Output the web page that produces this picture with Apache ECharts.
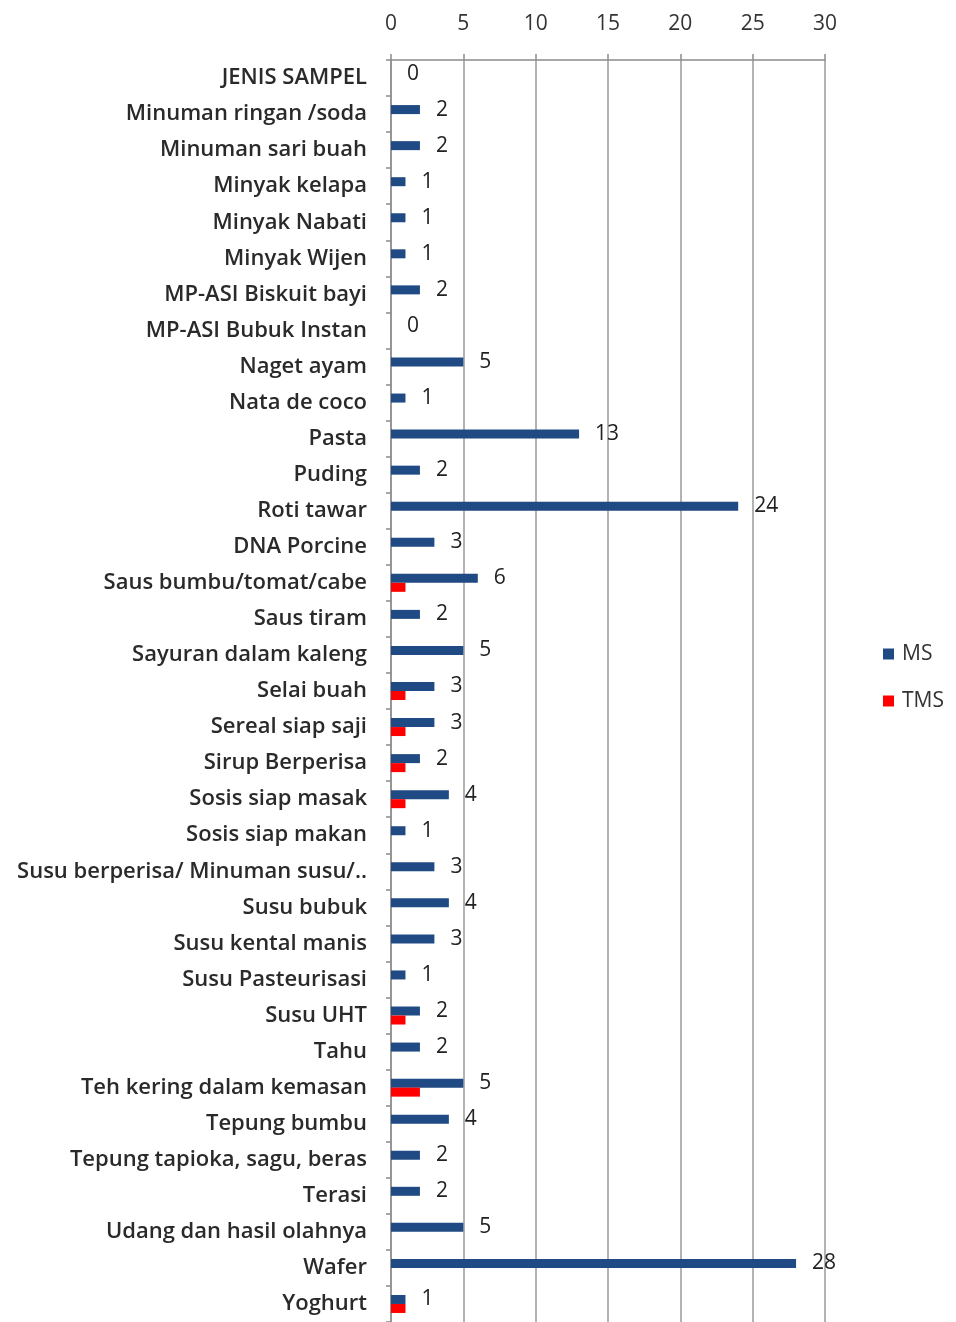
<!DOCTYPE html>
<html><head><meta charset="utf-8">
<script src="https://cdn.jsdelivr.net/npm/echarts@6/dist/echarts.min.js"></script>
<style>html,body{margin:0;padding:0;background:#fff}#c{width:956px;height:1322px}</style>
</head><body><div id="c"></div>
<script>
const categories = ["JENIS SAMPEL","Minuman ringan /soda","Minuman sari buah","Minyak kelapa","Minyak Nabati","Minyak Wijen","MP-ASI Biskuit bayi","MP-ASI Bubuk Instan","Naget ayam","Nata de coco","Pasta","Puding","Roti tawar","DNA Porcine","Saus bumbu/tomat/cabe","Saus tiram","Sayuran dalam kaleng","Selai buah","Sereal siap saji","Sirup Berperisa","Sosis siap masak","Sosis siap makan","Susu berperisa/ Minuman susu/..","Susu bubuk","Susu kental manis","Susu Pasteurisasi","Susu UHT","Tahu","Teh kering dalam kemasan","Tepung bumbu","Tepung tapioka, sagu, beras","Terasi","Udang dan hasil olahnya","Wafer","Yoghurt"];
const msValues = [0,2,2,1,1,1,2,0,5,1,13,2,24,3,6,2,5,3,3,2,4,1,3,4,3,1,2,2,5,4,2,2,5,28,1];
const tmsValues = [0,0,0,0,0,0,0,0,0,0,0,0,0,0,1,0,0,1,1,1,1,0,0,0,0,0,1,0,2,0,0,0,0,0,1];
const xTicks = [0,5,10,15,20,25,30];

const font = '"Open Sans"';
const chart = echarts.init(document.getElementById('c'), null, {renderer:'canvas'});
chart.setOption({
  animation:false,
  backgroundColor:'#fff',
  textStyle:{fontFamily:font},
  legend:{
    orient:'vertical', left:878, top:638, itemWidth:11, itemHeight:11, itemGap:25,
    icon:'rect', data:['MS','TMS'],
    textStyle:{fontFamily:font,fontSize:21,lineHeight:22,color:'#333', padding:[0,0,0,3]}
  },
  grid:{left:391, top:60, width:434, height:1265, containLabel:false},
  xAxis:{
    type:'value', position:'top', min:xTicks[0], max:xTicks[xTicks.length-1], interval:5,
    axisLine:{show:true,lineStyle:{color:'#8c8c8c',width:1.5}},
    axisTick:{show:true,inside:false,length:6,lineStyle:{color:'#8c8c8c',width:1.5}},
    splitLine:{show:true,lineStyle:{color:'#9a9a9a',width:1.5}},
    axisLabel:{fontFamily:font,fontSize:21,color:'#333',margin:25}
  },
  yAxis:{
    type:'category', data:categories, inverse:true,
    axisLine:{show:true,lineStyle:{color:'#8c8c8c',width:1.5}},
    axisTick:{show:true,length:5,lineStyle:{color:'#8c8c8c',width:1.5}},
    axisLabel:{fontFamily:font,fontSize:22,fontWeight:600,color:'#2a2a2a',margin:24, interval:0}
  },
  series:[
    {name:'MS', type:'bar', data:msValues, barWidth:9, barGap:'0%',
     itemStyle:{color:'#1f4a83'},
     label:{show:true, position:'right', distance:16, fontFamily:font, fontSize:21, color:'#222'}},
    {name:'TMS', type:'bar', data:tmsValues, barWidth:9, barGap:'0%',
     itemStyle:{color:'#ff0000'}}
  ]
});
</script></body></html>
